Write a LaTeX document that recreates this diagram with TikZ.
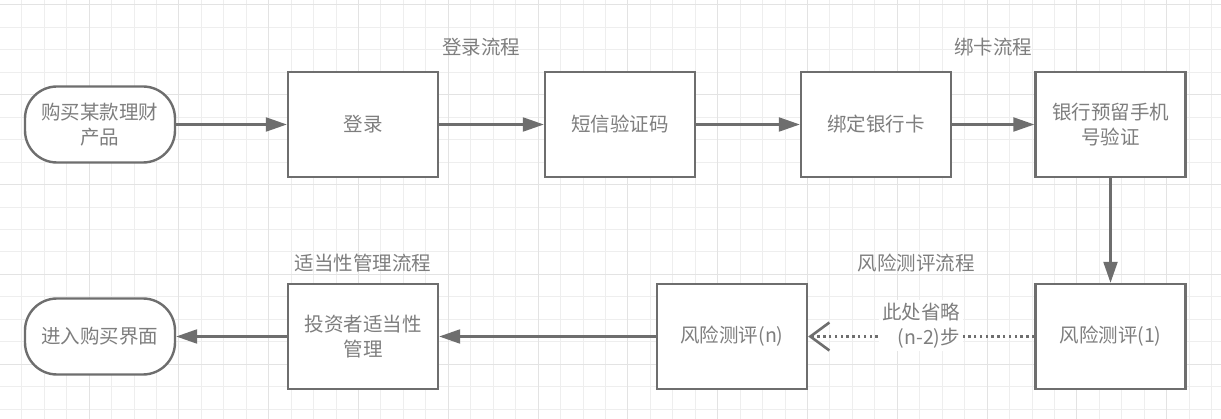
\documentclass[tikz,border=0pt]{standalone}
\usepackage{fontspec}
\setmainfont{Noto Sans CJK SC}
\usetikzlibrary{arrows.meta}
\definecolor{edge}{HTML}{6E6E6E}
\definecolor{txt}{HTML}{7E7E7E}
\definecolor{gridminor}{HTML}{EEEEEE}
\definecolor{gridmajor}{HTML}{E3E3E3}
\tikzset{
  box/.style={draw=edge, line width=2.4pt, fill=white, minimum width=150pt, minimum height=105pt, inner sep=0pt, text=txt, align=center, font=\fontsize{19.5}{25}\selectfont},
  term/.style={box, minimum height=76pt, rounded corners=32pt},
  flow/.style={draw=edge, line width=2.2pt, -{Triangle[length=21pt,width=14pt]}},
  skipline/.style={draw=edge, line width=2.6pt, dash pattern=on 2.4pt off 3.4pt, -{Straight Barb[length=19pt,width=28pt,line width=2.6pt]}},
  captext/.style={text=txt, font=\fontsize{19.5}{25}\selectfont, inner sep=2pt}
}
\begin{document}
\begin{tikzpicture}[x=1pt,y=-1pt]
\useasboundingbox (0,0) rectangle (1221,419);
\fill[white] (0,0) rectangle (1221,419);
% grid
\foreach \i in {0,...,55} {
  \pgfmathsetmacro{\xx}{-0.7+22.45*\i}
  \draw[gridminor, line width=1pt] (\xx,0) -- (\xx,419);
}
\foreach \i in {0,...,19} {
  \pgfmathsetmacro{\yy}{5+22.45*\i}
  \draw[gridminor, line width=1pt] (0,\yy) -- (1221,\yy);
}
\foreach \i in {0,...,13} {
  \pgfmathsetmacro{\xx}{-0.7+89.8*\i}
  \draw[gridmajor, line width=1pt] (\xx,0) -- (\xx,419);
}
\foreach \i in {0,...,4} {
  \pgfmathsetmacro{\yy}{5+89.8*\i}
  \draw[gridmajor, line width=1pt] (0,\yy) -- (1221,\yy);
}
% nodes
\node[term] (start) at (100,124.5) {购买某款理财\\产品};
\node[box] (login) at (363,124.5) {登录};
\node[box] (sms) at (620,124.5) {短信验证码};
\node[box] (bind) at (876,124.5) {绑定银行卡};
\node[box] (phone) at (1110.5,124.5) {银行预留手机\\号验证};
\node[box] (r1) at (1110.5,336.5) {风险测评(1)};
\node[box] (rn) at (732,336.5) {风险测评(n)};
\node[box] (fit) at (363,336.5) {投资者适当性\\管理};
\node[term] (end) at (100,336.5) {进入购买界面};
% captions
\node[captext] (c1) at (481,47) {登录流程};
\node[captext] (c2) at (993,47) {绑卡流程};
\node[captext] (c3) at (916,263) {风险测评流程};
\node[captext] (c4) at (363,263) {适当性管理流程};
% connectors
\draw[flow] (start) -- (login);
\draw[flow] (login) -- (sms);
\draw[flow] (sms) -- (bind);
\draw[flow] (bind) -- (phone);
\draw[flow] (phone) -- (r1);
\draw[flow] (rn) -- (fit);
\draw[flow] (fit) -- (end);
\draw[skipline] (r1) -- (rn);
\node[captext, fill=white, align=right, inner sep=3pt] (skiplbl) at (921,325.5) {此处省略\\(n-2)步};
\end{tikzpicture}
\end{document}
